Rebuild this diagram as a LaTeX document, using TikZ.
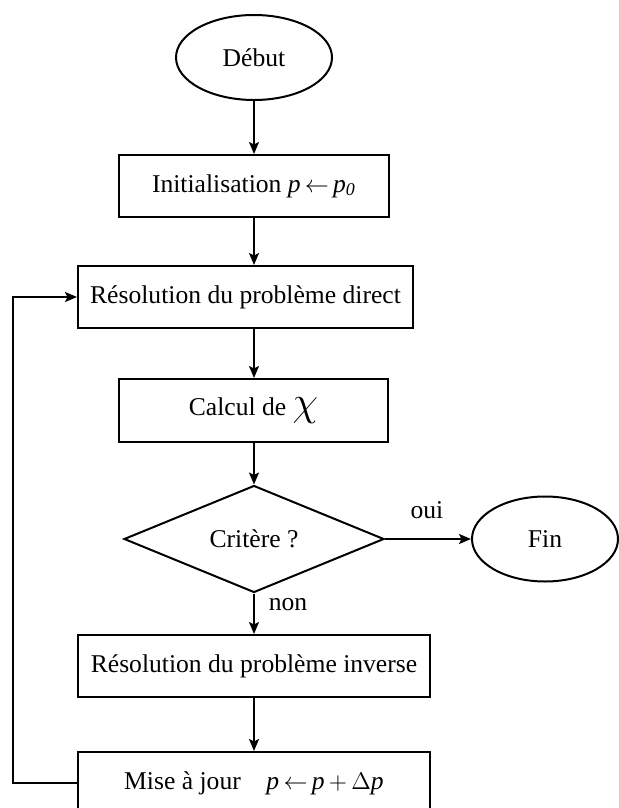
\documentclass[tikz,border=0pt]{standalone}
\usepackage{fontspec}
\setmainfont{Liberation Serif}
\usetikzlibrary{shapes.geometric,arrows.meta}
\tikzset{
  base/.style={draw, line width=1pt, inner sep=0pt, font=\fontsize{12.8}{15}\selectfont},
  procbox/.style={base, rectangle},
  termnode/.style={base, ellipse},
  decnode/.style={base, diamond},
  lbl/.style={font=\fontsize{12.8}{15}\selectfont, inner sep=0pt},
  arr/.style={line width=1pt, -{Stealth[length=6pt,width=5pt,inset=1.2pt]}},
  plainline/.style={line width=1pt}
}
\newcommand{\ip}{\textit{p}}
\begin{document}
\begin{tikzpicture}[x=0.5pt,y=-0.5pt]
\useasboundingbox (0,0) rectangle (619,808);
\node[termnode, minimum width=78pt, minimum height=42.5pt] (debut) at (254,57.5) {Début};
\node[procbox, minimum width=135pt, minimum height=31pt] (init) at (254,186)
  {Initialisation \ip\,$\leftarrow$\,\ip\textsubscript{\textit{0}}};
\node[procbox, minimum width=167.5pt, minimum height=31pt] (direct) at (245.5,297)
  {Résolution du problème direct};
\node[procbox, minimum width=134.5pt, minimum height=31.5pt] (calcul) at (253.5,410.5)
  {Calcul de {\fontsize{22}{24}\selectfont$\chi$}};
\node[decnode, minimum width=130pt, minimum height=47pt] (crit) at (254,539) {Critère ?};
\node[termnode, minimum width=73pt, minimum height=42.5pt] (fin) at (545,539) {Fin};
\node[procbox, minimum width=176pt, minimum height=31pt] (inverse) at (254,666)
  {Résolution du problème inverse};
\node[procbox, minimum width=176pt, minimum height=31pt] (mise) at (254,783)
  {Mise à jour\quad \ip\,$\leftarrow$\,\ip\,$+$\,$\Delta$\ip};
\node[lbl] (oui) at (427,510) {oui};
\node[lbl] (non) at (288,605) {non};
\coordinate (lp) at (13,783);
\draw[arr] (debut.south) -- (init.north);
\draw[arr] (init.south) -- (direct.north -| init.south);
\draw[arr] (direct.south -| init.south) -- (calcul.north -| init.south);
\draw[arr] (calcul.south -| crit.north) -- (crit.north);
\draw[arr] (crit.south) -- (inverse.north);
\draw[arr] (inverse.south) -- (mise.north);
\draw[arr] (crit.east) -- (fin.west);
\draw[arr] (mise.west) -- (lp) |- (direct.west);
\end{tikzpicture}
\end{document}
